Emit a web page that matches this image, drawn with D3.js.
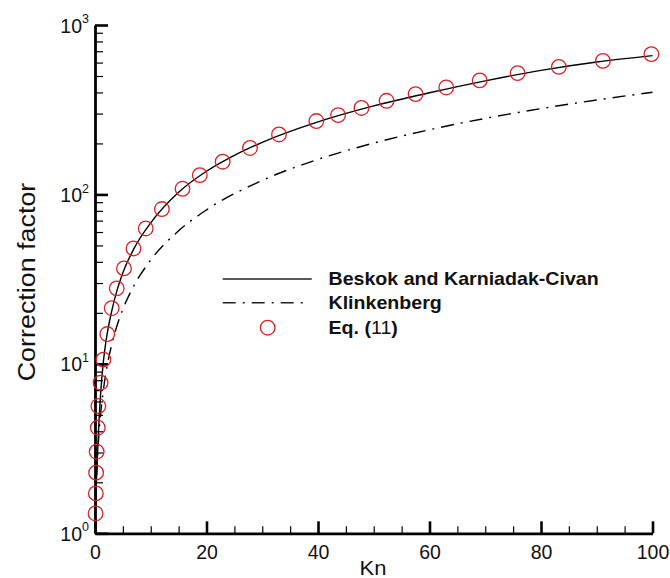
<!DOCTYPE html>
<html><head><meta charset="utf-8">
<script src="https://cdn.jsdelivr.net/npm/d3@7"></script>
<style>
body{margin:0;background:#fff;}
svg{display:block;font-family:"Liberation Sans",Arial,sans-serif;}
</style></head>
<body><svg id="c" width="670" height="578"></svg>
<script>
// ---- data ----
const bkKn  = [0, 0.1, 0.2, 0.4, 0.7, 1, 1.5, 2, 3, 4, 5, 7, 10, 15, 20, 25, 30, 40, 50, 60, 70, 80, 90, 100];
const bkVal = [1, 1.4, 1.8, 2.7, 4.5, 6.6, 10.3, 13.8, 20.5, 27.5, 34.5, 48, 68, 103, 137, 170, 203, 268, 333, 398, 468, 540, 605, 660];
const klKn  = [0, 0.25, 0.5, 1, 1.5, 2, 3, 4, 5, 7, 10, 15, 20, 30, 40, 50, 60, 70, 80, 90, 100];
const klVal = [1, 2, 3, 5, 7, 9, 13, 17, 21, 29, 41, 61, 81, 121, 161, 201, 241, 281, 321, 361, 401];
const eqKn  = [0.1, 0.15, 0.2, 0.3, 0.5, 0.6, 1.0, 1.5, 2.2, 3.0, 3.9, 5.2, 6.9, 9.1, 12.0, 15.7, 18.8, 22.9, 27.8, 33.0, 39.7, 43.6, 47.8, 52.3, 57.5, 63.0, 69.0, 75.8, 83.2, 91.1, 99.8];
const eqVal = [1.31, 1.72, 2.28, 3.03, 4.2, 5.64, 7.74, 10.6, 15.0, 21.3, 27.9, 36.6, 48, 63, 82, 108, 130, 156, 188, 226, 271, 294, 324, 357, 391, 428, 471, 520, 566, 614, 673];
const xTicks = [0, 20, 40, 60, 80, 100];
const yTicks = [1, 10, 100, 1000];
const seriesNames = ["Beskok and Karniadak-Civan", "Klinkenberg", "Eq. (11)"];
const xTitle = "Kn";
const yTitle = "Correction factor";

const svg = d3.select("#c");
const x = d3.scaleLinear().domain([0, 100]).range([95, 652.5]);
const y = d3.scaleLog().domain([1, 1000]).range([533.3, 25]);
const red = "#d92026";

// ---- axes ----
const xMinor = d3.range(0, 101, 5).filter(v => v % 20 !== 0);
const yMinor = [];
[1, 10, 100].forEach(d => { for (let k = 2; k <= 9; k++) yMinor.push(d * k); });

const gx = svg.append("g").attr("transform", `translate(0,${y(1)})`);
gx.call(d3.axisBottom(x).tickValues(xMinor).tickSizeInner(-7).tickSizeOuter(0).tickFormat(""));
gx.selectAll("line").attr("stroke", "#000").attr("stroke-width", 1.2);
gx.select(".domain").remove();
const gx2 = svg.append("g").attr("transform", `translate(0,${y(1)})`);
gx2.call(d3.axisBottom(x).tickValues(xTicks).tickSizeInner(-12).tickSizeOuter(0).tickPadding(7));
gx2.selectAll("line").attr("stroke", "#000").attr("stroke-width", 2.6);
gx2.select(".domain").attr("stroke", "#000").attr("stroke-width", 2.8);
gx2.selectAll("text").attr("font-size", 19.5).attr("fill", "#111")
   .attr("font-family", "'Liberation Sans',Arial,sans-serif").attr("dy", "0.95em");

const gy = svg.append("g").attr("transform", `translate(${x(0)},0)`);
gy.call(d3.axisLeft(y).tickValues(yMinor).tickSizeInner(-8).tickSizeOuter(0).tickFormat(""));
gy.selectAll("line").attr("stroke", "#000").attr("stroke-width", 1.2);
gy.select(".domain").remove();
const gy2 = svg.append("g").attr("transform", `translate(${x(0)},0)`);
gy2.call(d3.axisLeft(y).tickValues(yTicks).tickSizeInner(-13).tickSizeOuter(0).tickFormat(""));
gy2.selectAll("line").attr("stroke", "#000").attr("stroke-width", 2.6);
gy2.select(".domain").attr("stroke", "#000").attr("stroke-width", 2.8);
gy2.selectAll(".tick").each(function(d) {
  const t = d3.select(this).select("text")
    .attr("font-size", 19.5).attr("fill", "#111").attr("x", -6).attr("dy", "0.36em")
    .attr("font-family", "'Liberation Sans',Arial,sans-serif");
  t.text("10");
  t.append("tspan").attr("font-size", 12.5).attr("dy", "-0.75em").text(Math.round(Math.log10(d)));
});

// ---- titles ----
svg.append("text").attr("transform", `translate(373,575) scale(1.1,1)`)
  .attr("text-anchor", "middle").attr("font-size", 20).attr("fill", "#111").text(xTitle);
svg.append("text").attr("transform", `translate(35,282) rotate(-90) scale(1.12,1)`)
  .attr("text-anchor", "middle").attr("font-size", 24).attr("fill", "#111").text(yTitle);

// ---- lines ----
const line = d3.line().x(d => x(d[0])).y(d => y(d[1])).curve(d3.curveMonotoneX);
const bk = bkKn.map((k, i) => [k, bkVal[i]]);
const kl = klKn.map((k, i) => [k, klVal[i]]);
const dashDot = "13,7,2,7";
svg.append("path").datum(bk).attr("d", line).attr("fill", "none")
  .attr("stroke", "#000").attr("stroke-width", 1.4);
svg.append("path").datum(kl).attr("d", line).attr("fill", "none")
  .attr("stroke", "#000").attr("stroke-width", 1.4).attr("stroke-dasharray", dashDot);

// ---- symbols ----
svg.append("g").selectAll("circle").data(eqKn.map((k, i) => [k, eqVal[i]])).join("circle")
  .attr("cx", d => x(d[0])).attr("cy", d => y(d[1])).attr("r", 7.3)
  .attr("fill", "none").attr("stroke", red).attr("stroke-width", 1.3);

// ---- legend ----
const lg = svg.append("g");
const rowsY = [279, 302.7, 327.7];
lg.append("line").attr("x1", 222.7).attr("x2", 311.7).attr("y1", rowsY[0]).attr("y2", rowsY[0])
  .attr("stroke", "#222").attr("stroke-width", 1.4);
lg.append("line").attr("x1", 222.7).attr("x2", 307).attr("y1", rowsY[1]).attr("y2", rowsY[1])
  .attr("stroke", "#222").attr("stroke-width", 1.4).attr("stroke-dasharray", dashDot);
lg.append("circle").attr("cx", 267.7).attr("cy", rowsY[2]).attr("r", 7.3)
  .attr("fill", "none").attr("stroke", red).attr("stroke-width", 1.3);
seriesNames.forEach((n, i) => {
  const t = lg.append("text").attr("transform", `translate(328.5,${rowsY[i] + 6.3}) scale(1.09,1)`)
    .attr("font-size", 18).attr("font-weight", "bold").attr("fill", "#111");
  if (i === 2) {
    t.text("Eq. (");
    t.append("tspan").attr("font-weight", "normal").text("11");
    t.append("tspan").text(")");
  } else t.text(n);
});
</script></body></html>
